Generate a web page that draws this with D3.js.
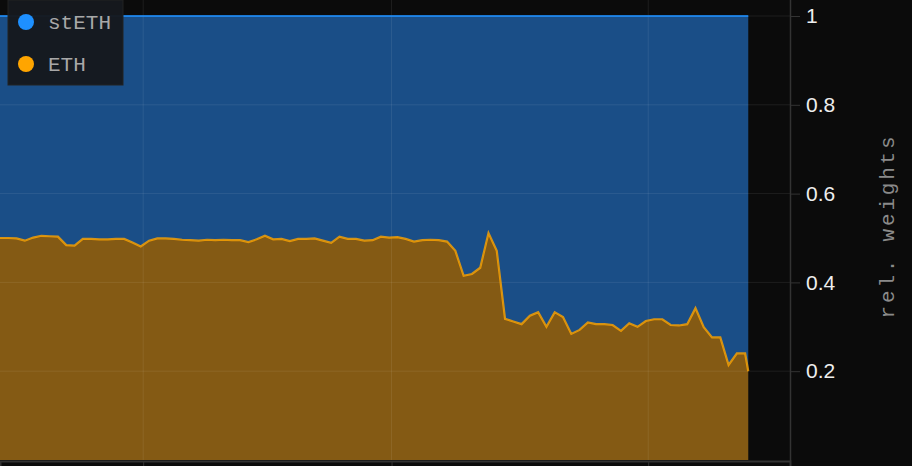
<!DOCTYPE html>
<html>
<head>
<meta charset="utf-8">
<script src="https://cdn.jsdelivr.net/npm/d3@7"></script>
<style>
  body { margin: 0; background: #0b0b0b; overflow: hidden; }
</style>
</head>
<body>
<div id="chart"></div>
<script>
// series names and colours
const seriesNames = ["stETH", "ETH"];
const seriesColors = { stETH: "#1e90ff", ETH: "#ffa500" };
const seriesFills = { stETH: "#1a4e87", ETH: "#845a14" };

// daily samples, first stamp and the last (partial day) stamp
const startDate = new Date(2022, 2, 14, 17);
const lastStamp = new Date(2022, 5, 13, 2);
const domainEnd = new Date(2022, 5, 18, 3);

// relative weight of ETH
const ethWeights = [
  0.500, 0.500, 0.499, 0.494, 0.501, 0.505, 0.504, 0.503, 0.484, 0.483,
  0.498, 0.498, 0.497, 0.497, 0.498, 0.498, 0.490, 0.481, 0.494, 0.499,
  0.499, 0.498, 0.496, 0.495, 0.494, 0.496, 0.495, 0.496, 0.495, 0.495,
  0.491, 0.497, 0.505, 0.497, 0.498, 0.493, 0.498, 0.498, 0.499, 0.494,
  0.489, 0.503, 0.498, 0.498, 0.494, 0.495, 0.503, 0.501, 0.502, 0.498,
  0.492, 0.495, 0.496, 0.495, 0.492, 0.471, 0.415, 0.419, 0.433, 0.511,
  0.471, 0.318, 0.312, 0.306, 0.325, 0.333, 0.300, 0.333, 0.322, 0.284,
  0.293, 0.310, 0.306, 0.306, 0.304, 0.291, 0.308, 0.300, 0.313, 0.317,
  0.317, 0.304, 0.303, 0.306, 0.342, 0.299, 0.276, 0.276, 0.214, 0.240,
  0.240, 0.200
];

// relative weight of stETH
const stethWeights = [
  0.500, 0.500, 0.501, 0.506, 0.499, 0.495, 0.496, 0.497, 0.516, 0.517,
  0.502, 0.502, 0.503, 0.503, 0.502, 0.502, 0.510, 0.519, 0.506, 0.501,
  0.501, 0.502, 0.504, 0.505, 0.506, 0.504, 0.505, 0.504, 0.505, 0.505,
  0.509, 0.503, 0.495, 0.503, 0.502, 0.507, 0.502, 0.502, 0.501, 0.506,
  0.511, 0.497, 0.502, 0.502, 0.506, 0.505, 0.497, 0.499, 0.498, 0.502,
  0.508, 0.505, 0.504, 0.505, 0.508, 0.529, 0.585, 0.581, 0.567, 0.489,
  0.529, 0.682, 0.688, 0.694, 0.675, 0.667, 0.700, 0.667, 0.678, 0.716,
  0.707, 0.690, 0.694, 0.694, 0.696, 0.709, 0.692, 0.700, 0.687, 0.683,
  0.683, 0.696, 0.697, 0.694, 0.658, 0.701, 0.724, 0.724, 0.786, 0.760,
  0.760, 0.800
];

const yTicks = [0.2, 0.4, 0.6, 0.8, 1];

const width = 912;
const height = 466;
const plotRight = 790;
const plotTop = 16;
const plotBottom = 460;

const dates = ethWeights.map((_, i) =>
  i < ethWeights.length - 1 ? d3.timeDay.offset(startDate, i) : lastStamp);

const rows = dates.map((d, i) => ({ date: d, ETH: ethWeights[i], stETH: stethWeights[i] }));

const stacked = d3.stack().keys(["ETH", "stETH"])(rows);

const x = d3.scaleTime()
  .domain([startDate, domainEnd])
  .range([0, plotRight]);

const y = d3.scaleLinear()
  .domain([0, 1])
  .range([plotBottom, plotTop]);

const svg = d3.select("#chart").append("svg")
  .attr("width", width)
  .attr("height", height)
  .style("display", "block");

svg.append("rect")
  .attr("width", width)
  .attr("height", height)
  .attr("fill", "#0b0b0b");

const area = d3.area()
  .x(d => x(d.data.date))
  .y0(d => y(d[0]))
  .y1(d => y(d[1]));

const topLine = d3.line()
  .x(d => x(d.data.date))
  .y(d => y(d[1]));

// areas
svg.append("g")
  .selectAll("path")
  .data(stacked)
  .join("path")
  .attr("d", area)
  .attr("fill", d => seriesFills[d.key]);

// grid over the areas
const grid = svg.append("g").attr("class", "grid");
grid.selectAll("line.h")
  .data(yTicks)
  .join("line")
  .attr("class", "h")
  .attr("x1", 0).attr("x2", plotRight)
  .attr("y1", d => y(d)).attr("y2", d => y(d))
  .attr("stroke", "#ffffff")
  .attr("stroke-opacity", 0.08);

grid.selectAll("line.v")
  .data(x.ticks(d3.timeMonth.every(1)))
  .join("line")
  .attr("class", "v")
  .attr("x1", d => x(d)).attr("x2", d => x(d))
  .attr("y1", 0).attr("y2", plotBottom)
  .attr("stroke", "#ffffff")
  .attr("stroke-opacity", 0.08);

// lines on top of each layer
svg.append("g")
  .selectAll("path")
  .data(stacked)
  .join("path")
  .attr("d", topLine)
  .attr("fill", "none")
  .attr("stroke", d => seriesColors[d.key])
  .attr("stroke-opacity", 0.8)
  .attr("stroke-width", 2.2);

// right axis
const yAxis = svg.append("g")
  .attr("transform", `translate(${plotRight},0)`)
  .call(d3.axisRight(y).tickValues(yTicks).tickSize(10).tickPadding(6).tickFormat(d3.format("")));

yAxis.select(".domain").remove();
yAxis.selectAll(".tick line").attr("stroke", "#333");
yAxis.selectAll(".tick text")
  .attr("fill", "#eeeeee")
  .style("font-family", "'Liberation Sans', Arial, sans-serif")
  .style("font-size", "21px");

svg.append("line")
  .attr("x1", plotRight + 0.5).attr("x2", plotRight + 0.5)
  .attr("y1", 0).attr("y2", plotBottom + 1)
  .attr("stroke", "#333")
  .attr("stroke-width", 1.5);

// bottom axis (labels fall below the visible area)
const xAxis = svg.append("g")
  .attr("transform", `translate(0,${plotBottom + 1})`)
  .call(d3.axisBottom(x).ticks(d3.timeMonth.every(1)).tickSize(6).tickFormat(""));

xAxis.select(".domain").attr("stroke", "#333").attr("stroke-width", 2);
xAxis.selectAll(".tick line").attr("stroke", "#333");

// axis title
svg.append("text")
  .attr("transform", "translate(888,226) rotate(-90)")
  .attr("text-anchor", "middle")
  .attr("dominant-baseline", "middle")
  .attr("fill", "#8a8a8a")
  .style("font-family", "'Courier New', 'Liberation Mono', monospace")
  .style("font-size", "21px")
  .style("letter-spacing", "2.8px")
  .text("rel. weights");

// legend
const legend = svg.append("g").attr("transform", "translate(8,0)");
legend.append("rect")
  .attr("width", 115)
  .attr("height", 85)
  .attr("fill", "#16191e")
  .attr("fill-opacity", 0.97)
  .attr("stroke", "#222")
  .attr("stroke-width", 1);

const item = legend.selectAll("g.item")
  .data(seriesNames)
  .join("g")
  .attr("class", "item")
  .attr("transform", (d, i) => `translate(0,${22 + i * 42})`);

item.append("circle")
  .attr("cx", 18)
  .attr("r", 8)
  .attr("fill", d => seriesColors[d]);

item.append("text")
  .attr("x", 40)
  .attr("y", 7)
  .attr("fill", "#a8a8a8")
  .style("font-family", "'Courier New', 'Liberation Mono', monospace")
  .style("font-size", "21px")
  .text(d => d);
</script>
</body>
</html>
